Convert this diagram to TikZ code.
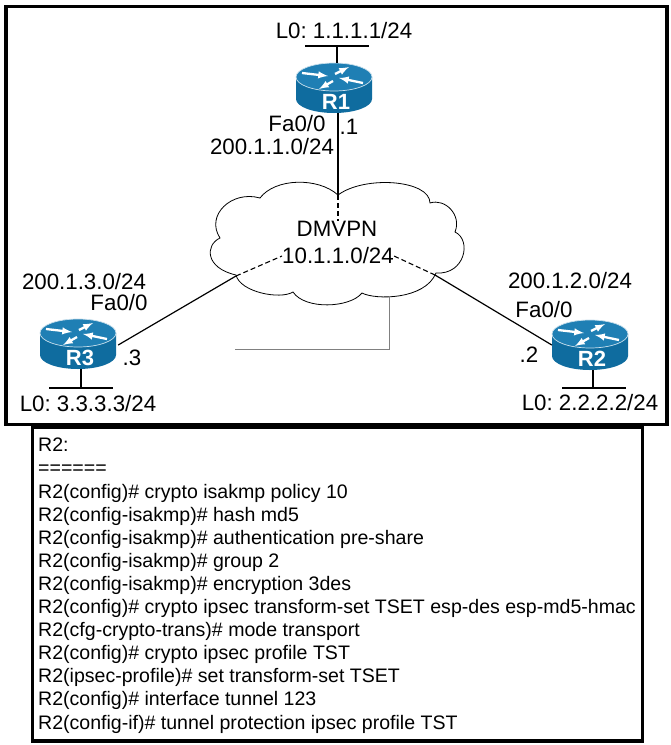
\documentclass[tikz,border=0pt]{standalone}
\usepackage{fontspec}
\setmainfont{Liberation Sans}
\usepackage{xcolor}
\usetikzlibrary{positioning,arrows}
\frenchspacing
\definecolor{routertop}{HTML}{1F7FB4}
\definecolor{routerbody}{HTML}{0F6C9F}
\tikzset{
	% The router icon is drawn around its own centre
	routericon/.pic={
		\fill[routerbody] (-38pt,-11) -- (-38pt,11) arc (180:360:38pt and 14pt) -- (38pt,-11) -- cycle;
		\fill[routertop, draw=white!75!routertop, line width=0.7pt] (0,-11) ellipse (38pt and 14pt);
		\draw[routerarrow] (-32,-15) -- (-6,-12);
		\draw[routerarrow] (1,-14) -- (15,-21);
		\draw[routerarrow] (29,-5) -- (5,-10);
		\draw[routerarrow] (-1,-7) -- (-15,1);
	},
	routerarrow/.style={-latex, white, line width=2.3pt}
}
\begin{document}
\begin{tikzpicture}
	[x=1pt, y=-1pt, font=\fontsize{22.3}{26}\selectfont,
	% STYLES
	% The frame style is used for the two black boxes
	frame/.style={draw, line width=3.6pt, fill=white},
	routerbox/.style={rectangle, inner sep=0pt, minimum width=76pt, minimum height=50pt},
	routername/.style={inner sep=0pt, text=white, font=\fontsize{22}{26}\selectfont\bfseries},
	netlabel/.style={inner sep=0pt, font=\fontsize{22.3}{26}\selectfont},
	lan/.style={line width=1.1pt},
	link/.style={line width=1.2pt},
	tunnel/.style={line width=1.1pt, dash pattern=on 5pt off 3pt},
	stray/.style={line width=1pt, draw=black!50}]
	\useasboundingbox (0,0) rectangle (671,745);
	% Draw boxes
	\node [frame, minimum width=661pt, minimum height=418pt] (topframe) at (336.75,215.5) {};
	\node [frame, minimum width=610pt, minimum height=314pt] (configframe) at (337.5,584) {};
	% Draw cloud
	\draw[line width=0.8pt, fill=white] (338,195)
		.. controls (318,177) and (275,178) .. (260,198)
		.. controls (232,190) and (205,215) .. (220,238)
		.. controls (205,245) and (205,268) .. (236,275)
		.. controls (240,292) and (280,300) .. (293,292)
		.. controls (305,310) and (350,308) .. (362,293)
		.. controls (375,300) and (425,300) .. (436,273)
		.. controls (465,275) and (472,240) .. (455,232)
		.. controls (462,215) and (445,198) .. (430,203)
		.. controls (430,180) and (365,175) .. (338,195);
	\coordinate (cloud-top) at (338,195);
	\coordinate (cloud-left) at (236,276);
	\coordinate (cloud-right) at (435,275);
	\coordinate (stray-a) at (235,349);
	\coordinate (stray-b) at (389,349);
	\coordinate (stray-c) at (389,296);
	% Draw routers
	\pic at (334,88) {routericon};
	\node [routerbox] (r1) at (334,88) {};
	\node [routername] (r1-name) at (336,102) {R1};
	\pic at (78,344) {routericon};
	\node [routerbox] (r3) at (78,344) {};
	\node [routername] (r3-name) at (80,358) {R3};
	\pic at (590,345) {routericon};
	\node [routerbox] (r2) at (590,345) {};
	\node [routername] (r2-name) at (592,359) {R2};
	% Draw loopbacks
	\coordinate (r1-lo) at (337,46);
	\coordinate (r3-lo) at (81,388);
	\coordinate (r2-lo) at (593,388);
	\draw[lan] (305,46) -- (369,46);
	\draw[lan] (r1-lo) -- (r1-lo |- r1.north);
	\draw[lan] (49,388) -- (113,388);
	\draw[lan] (r3-lo) -- (r3-lo |- r3.south);
	\draw[lan] (562,388) -- (626,388);
	\draw[lan] (r2-lo) -- (r2-lo |- r2.south);
	% Draw texts
	\node [netlabel] (dmvpn) at (337,229) {DMVPN};
	\node [netlabel] (tunnel-net) at (338,256) {10.1.1.0/24};
	\node [netlabel] (r1-l0) at (344,31) {L0: 1.1.1.1/24};
	\node [netlabel] (r1-fa) at (297,124) {Fa0/0};
	\node [netlabel] (r1-ip) at (349,127) {.1};
	\node [netlabel] (r1-net) at (272,147) {200.1.1.0/24};
	\node [netlabel] (r3-net) at (84,282) {200.1.3.0/24};
	\node [netlabel] (r3-fa) at (119,303) {Fa0/0};
	\node [netlabel] (r3-ip) at (132,358) {.3};
	\node [netlabel] (r3-l0) at (88,404) {L0: 3.3.3.3/24};
	\node [netlabel] (r2-net) at (570,281) {200.1.2.0/24};
	\node [netlabel] (r2-fa) at (544,310) {Fa0/0};
	\node [netlabel] (r2-ip) at (529,355) {.2};
	\node [netlabel] (r2-l0) at (590,403) {L0: 2.2.2.2/24};
	% Draw the links
	\draw[link] (cloud-top |- r1.south) -- (cloud-top);
	\draw[tunnel] (cloud-top) -- (dmvpn.north -| cloud-top);
	\draw[link] (r3.east) ++(2,1) -- (cloud-left);
	\draw[tunnel] (cloud-left) -- (tunnel-net.west);
	\draw[link] (r2.west) -- (cloud-right);
	\draw[tunnel] (cloud-right) -- (tunnel-net.east);
	\draw[stray] (stray-a) -- (stray-b) -- (stray-c);
	% Draw config
	\node [inner sep=0pt, anchor=north west, align=left, font=\fontsize{19.55}{23.1}\selectfont] (config) at (38,438) {R2:\\
		======\\
		R2(config)\# crypto isakmp policy 10\\
		R2(config-isakmp)\# hash md5\\
		R2(config-isakmp)\# authentication pre-share\\
		R2(config-isakmp)\# group 2\\
		R2(config-isakmp)\# encryption 3des\\
		R2(config)\# crypto ipsec transform-set TSET esp-des esp-md5-hmac\\
		R2(cfg-crypto-trans)\# mode transport\\
		R2(config)\# crypto ipsec profile TST\\
		R2(ipsec-profile)\# set transform-set TSET\\
		R2(config)\# interface tunnel 123\\
		R2(config-if)\# tunnel protection ipsec profile TST};
\end{tikzpicture}
\end{document}
